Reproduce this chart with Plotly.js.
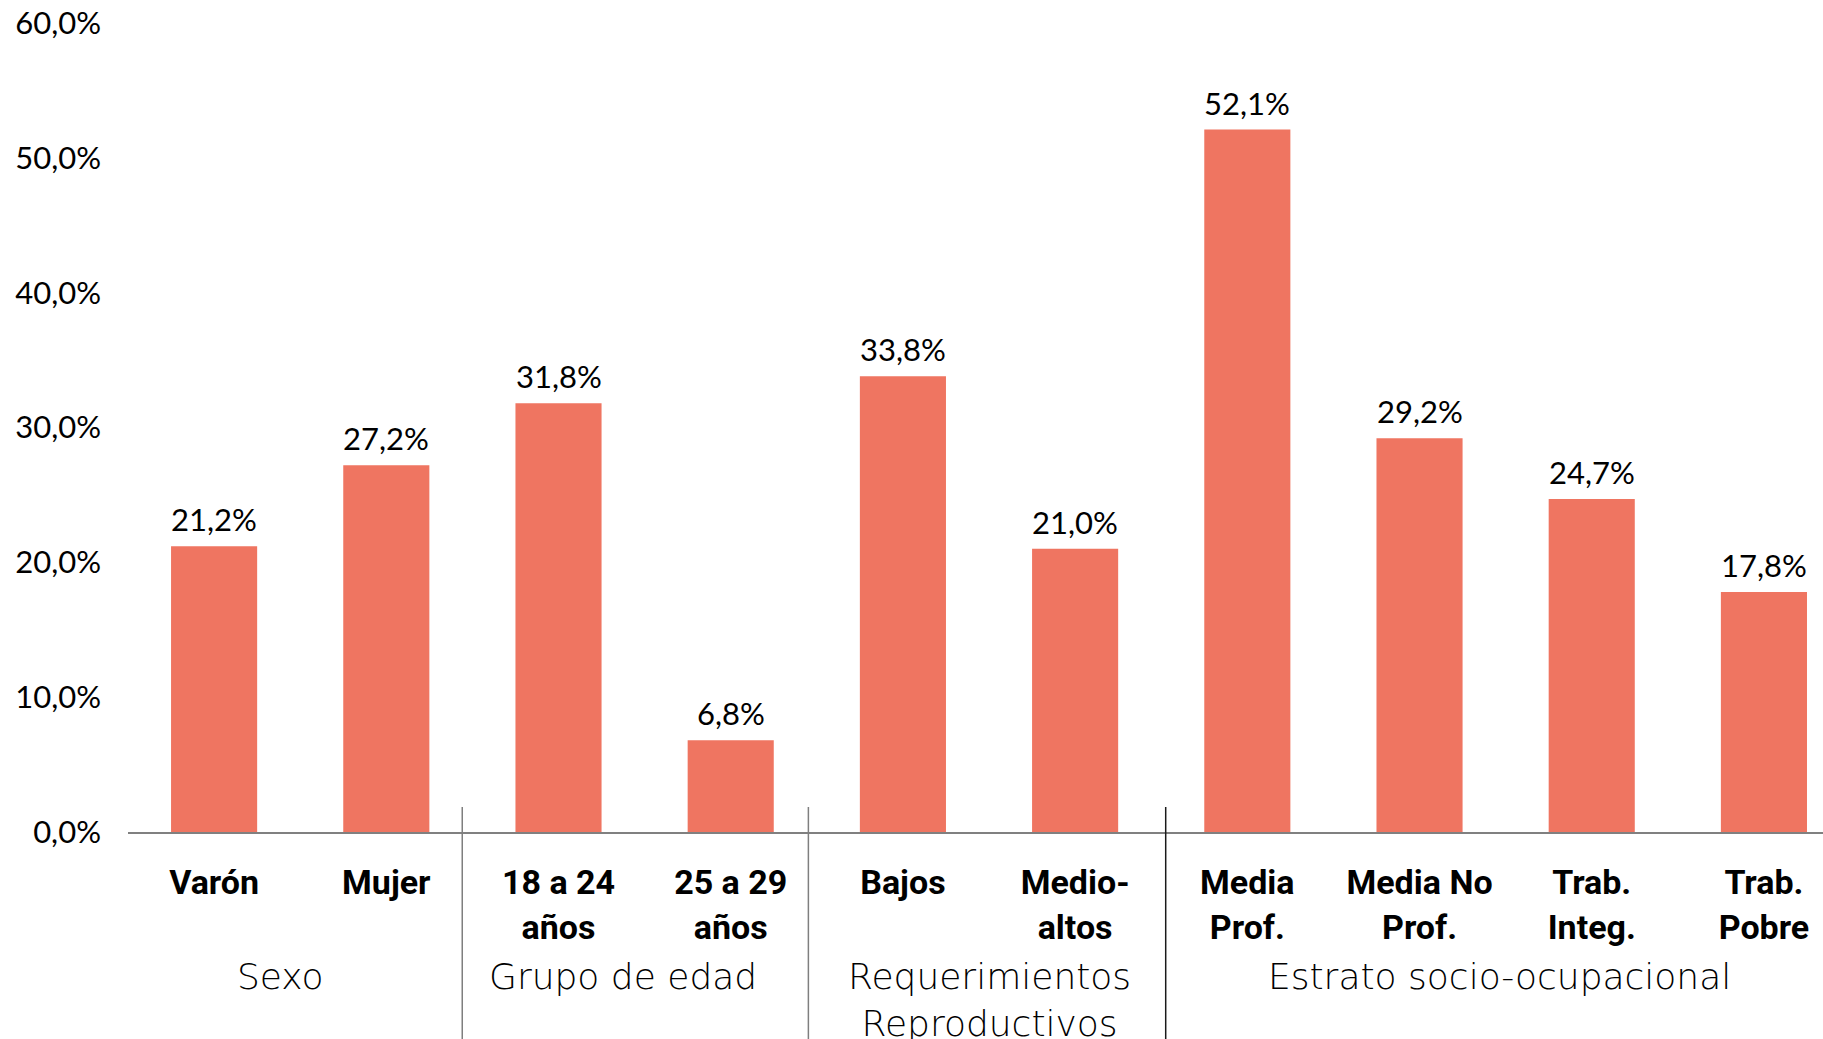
<!DOCTYPE html>
<html>
<head>
<meta charset="utf-8">
<script src="https://cdn.plot.ly/plotly-3.0.1.min.js"></script>
<style>
  html, body { margin: 0; padding: 0; background: #ffffff; }
  #chart { width: 1823px; height: 1039px; }
</style>
</head>
<body>
<div id="chart"></div>
<script>
// ---- Data ----
const categories = ['Varón', 'Mujer', '18 a 24<br>años', '25 a 29<br>años', 'Bajos',
                    'Medio-<br>altos', 'Media<br>Prof.', 'Media No<br>Prof.', 'Trab.<br>Integ.', 'Trab.<br>Pobre'];
const values = [21.2, 27.2, 31.8, 6.8, 33.8, 21.0, 52.1, 29.2, 24.7, 17.8];
const groupNames = ['Sexo', 'Grupo de edad', 'Requerimientos<br>Reproductivos', 'Estrato socio-ocupacional'];
const yTickValues = [0, 10, 20, 30, 40, 50, 60];

function fmtPct(v) { return v.toFixed(1).replace('.', ',') + '%'; }
const yTickText = yTickValues.map(fmtPct);

// ---- Layout constants (px-derived) ----
const W = 1823, H = 1039;
const mL = 128, mR = 0, mT = 23, mB = 207;
const plotH = H - mT - mB;
function paperY(px) { return (H - mB - px) / plotH; }

const barColor = '#EF7561';
const labelFont = 'Lato, "Open Sans", sans-serif';
const groupFont = '"DejaVu Sans", Lato, sans-serif';
const catFont = 'Roboto, "Noto Sans", sans-serif';

// group label positions (category-axis coordinates) and dividers
const groupX = [0.383, 2.374, 4.505, 7.464];
const dividerX = [1.441, 3.451, 5.526];
const dividerColor = ['#7f7f7f', '#7f7f7f', '#1a1a1a'];

const trace = {
  type: 'bar',
  x: categories,
  y: values,
  marker: { color: barColor, line: { width: 0 } },
  cliponaxis: false,
  hoverinfo: 'skip',
  showlegend: false
};

const shapes = dividerX.map((x, i) => ({
  type: 'line', xref: 'x', yref: 'paper',
  x0: x, x1: x, y0: paperY(807), y1: paperY(H),
  line: { color: dividerColor[i], width: 1.5 }
}));

const valueLabels = categories.map((c, i) => ({
  text: fmtPct(values[i]), xref: 'x', yref: 'y',
  x: c, y: values[i], yanchor: 'bottom', xanchor: 'center',
  yshift: 6, showarrow: false,
  font: { family: labelFont, size: 31, color: '#000000' }
}));

const groupLabels = groupNames.map((g, i) => ({
  text: g, xref: 'x', yref: 'paper',
  x: groupX[i], y: paperY(954), yanchor: 'top', xanchor: 'center',
  showarrow: false, align: 'center',
  font: { family: groupFont, size: 36, color: '#000000', weight: 200 }
}));

const layout = {
  width: W, height: H,
  margin: { l: mL, r: mR, t: mT, b: mB, pad: 0 },
  paper_bgcolor: '#ffffff',
  plot_bgcolor: '#ffffff',
  separators: ',.',
  bargap: 0.5,
  showlegend: false,
  xaxis: {
    type: 'category',
    range: [-0.5, 9.343],
    showline: true, linecolor: '#808080', linewidth: 1.5,
    showgrid: false, zeroline: false, ticks: '',
    ticklabelstandoff: 20,
    tickfont: { family: catFont, size: 34, color: '#000000', weight: 700 },
    fixedrange: true
  },
  yaxis: {
    range: [0, 60],
    tickmode: 'array',
    tickvals: yTickValues,
    ticktext: yTickText,
    showline: false, showgrid: false, zeroline: false, ticks: '',
    ticklabelstandoff: 26,
    tickfont: { family: labelFont, size: 31, color: '#000000' },
    fixedrange: true
  },
  shapes: shapes,
  annotations: valueLabels.concat(groupLabels),
  font: { family: labelFont, color: '#000000' }
};

Plotly.newPlot('chart', [trace], layout, { displayModeBar: false, staticPlot: true });
</script>
</body>
</html>
